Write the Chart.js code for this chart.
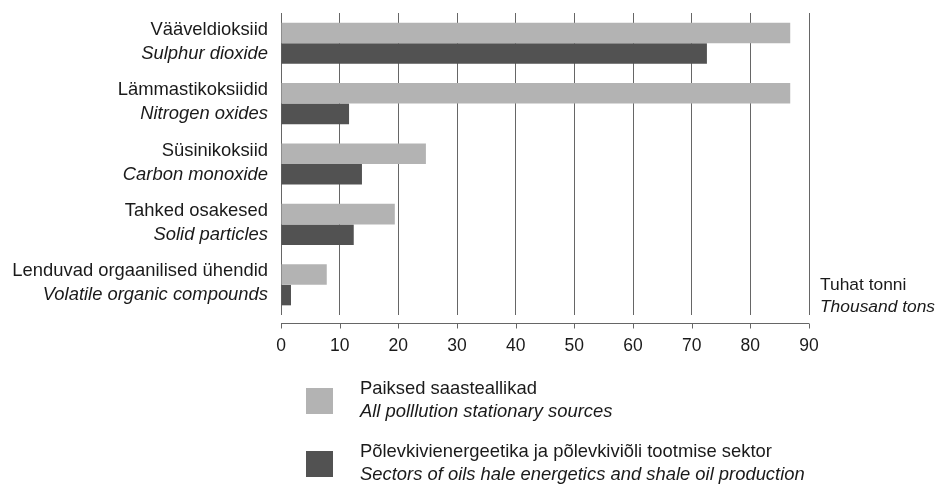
<!DOCTYPE html>
<html>
<head>
<meta charset="utf-8">
<script src="https://cdn.jsdelivr.net/npm/chart.js@4/dist/chart.umd.min.js"></script>
<style>
  html, body { margin: 0; padding: 0; background: #fff; }
  #wrap { width: 939px; height: 484px; position: relative; }
</style>
</head>
<body>
<div id="wrap"><canvas id="emissions"></canvas></div>
<script>
const categoriesEt = ['Vääveldioksiid', 'Lämmastikoksiidid', 'Süsinikoksiid', 'Tahked osakesed', 'Lenduvad orgaanilised ühendid'];
const categoriesEn = ['Sulphur dioxide', 'Nitrogen oxides', 'Carbon monoxide', 'Solid particles', 'Volatile organic compounds'];

const allSources = [86.8, 86.8, 24.7, 19.4, 7.8];
const oilShaleSector = [72.6, 11.6, 13.8, 12.4, 1.7];

const seriesEt = ['Paiksed saasteallikad', 'Põlevkivienergeetika ja põlevkiviõli tootmise sektor'];
const seriesEn = ['All polllution stationary sources', 'Sectors of oils hale energetics and shale oil production'];

const unitEt = 'Tuhat tonni';
const unitEn = 'Thousand tons';

const xMin = 0, xMax = 90, xStep = 10;

const LIGHT = '#b3b3b3';
const DARK = '#525252';
const TEXT = '#1a1a1a';
const FONT = "'Liberation Sans', Arial, sans-serif";
const FS = 18.4;

// labels, axis line, unit and legend are drawn by hand (two-line mixed style text)
const extras = {
  id: 'extras',
  afterDraw(chart) {
    const ctx = chart.ctx;
    const x = chart.scales.x;
    const y = chart.scales.y;
    const area = chart.chartArea;
    ctx.save();
    ctx.fillStyle = TEXT;
    ctx.textBaseline = 'middle';

    // category labels
    ctx.textAlign = 'right';
    categoriesEt.forEach((lab, i) => {
      const cy = y.getPixelForValue(i);
      ctx.font = `${FS}px ${FONT}`;
      ctx.fillText(lab, area.left - 13, cy - 13.5);
      ctx.font = `italic ${FS}px ${FONT}`;
      ctx.fillText(categoriesEn[i], area.left - 13, cy + 10.5);
    });

    // x axis line with tick marks, detached from grid
    const ay = Math.round(area.bottom) + 8.5;
    ctx.strokeStyle = '#666';
    ctx.lineWidth = 1;
    ctx.beginPath();
    ctx.moveTo(x.getPixelForValue(xMin), ay);
    ctx.lineTo(x.getPixelForValue(xMax), ay);
    for (let v = xMin; v <= xMax; v += xStep) {
      const px = Math.round(x.getPixelForValue(v)) + 0.5;
      ctx.moveTo(px, ay);
      ctx.lineTo(px, ay + 5);
    }
    ctx.stroke();

    // unit
    ctx.textAlign = 'left';
    ctx.font = `17.4px ${FONT}`;
    ctx.fillText(unitEt, area.right + 11, 285);
    ctx.font = `italic 17.4px ${FONT}`;
    ctx.fillText(unitEn, area.right + 11, 307);

    // legend
    const colors = [LIGHT, DARK];
    const rows = [389, 451.5];
    rows.forEach((ry, i) => {
      ctx.fillStyle = colors[i];
      ctx.fillRect(306, Math.round(ry) - 1, 27, 26);
      ctx.fillStyle = TEXT;
      ctx.font = `${FS}px ${FONT}`;
      ctx.fillText(seriesEt[i], 360, ry);
      ctx.font = `italic ${FS}px ${FONT}`;
      ctx.fillText(seriesEn[i], 360, ry + 23);
    });
    ctx.restore();
  }
};

new Chart(document.getElementById('emissions'), {
  type: 'bar',
  data: {
    labels: categoriesEt,
    datasets: [
      { label: seriesEt[0], data: allSources, backgroundColor: LIGHT },
      { label: seriesEt[1], data: oilShaleSector, backgroundColor: DARK }
    ]
  },
  options: {
    indexAxis: 'y',
    responsive: true,
    maintainAspectRatio: false,
    animation: false,
    categoryPercentage: 0.68,
    barPercentage: 1.0,
    layout: { padding: { left: 273, right: 130, top: 13, bottom: 106 } },
    plugins: {
      legend: { display: false },
      tooltip: { enabled: false }
    },
    scales: {
      x: {
        min: xMin,
        max: xMax,
        ticks: {
          stepSize: xStep,
          padding: 21,
          color: TEXT,
          font: { family: FONT, size: 17.5 }
        },
        grid: { color: '#666', drawTicks: false },
        border: { display: false }
      },
      y: {
        ticks: { display: false },
        grid: { display: false },
        border: { display: false }
      }
    }
  },
  plugins: [extras]
});
</script>
</body>
</html>
